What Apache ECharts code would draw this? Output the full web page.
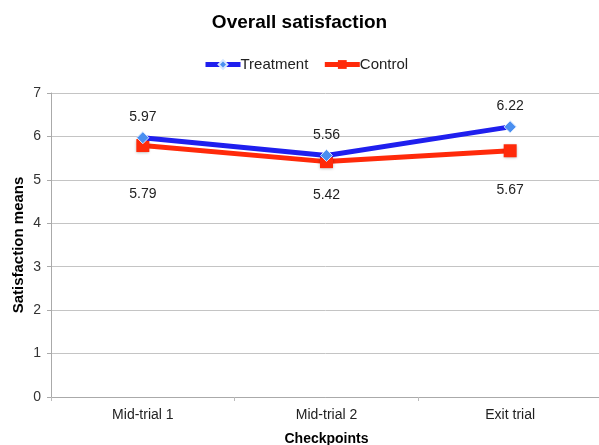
<!DOCTYPE html>
<html>
<head>
<meta charset="utf-8">
<script src="https://cdn.jsdelivr.net/npm/echarts@6/dist/echarts.min.js"></script>
<style>
  html, body { margin: 0; padding: 0; background: #fff; }
  #chart { width: 599px; height: 445px; }
</style>
</head>
<body>
<div id="chart"></div>
<script>
// Checkpoints along the x axis
const checkpoints = ['Mid-trial 1', 'Mid-trial 2', 'Exit trial'];
// Mean satisfaction per group
const treatment = [5.97, 5.56, 6.22];
const control = [5.79, 5.42, 5.67];
// Y axis range
const yMin = 0, yMax = 7, yStep = 1;

// Gap between each control marker and its value label
const controlLabelGap = [35, 20, 26];

const chart = echarts.init(document.getElementById('chart'));
const font = 'Liberation Sans, Arial, sans-serif';

chart.setOption({
  animation: false,
  backgroundColor: '#fff',
  title: {
    text: 'Overall satisfaction',
    left: 'center',
    top: 8,
    textStyle: { fontFamily: font, fontSize: 19, fontWeight: 'bold', color: '#000' }
  },
  legend: {
    top: 52,
    left: 198,
    itemGap: 14,
    itemWidth: 35,
    itemHeight: 11,
    textStyle: { fontFamily: font, fontSize: 15, color: '#222', padding: [0, 0, 0, -5] },
    data: [
      { name: 'Treatment', lineStyle: { width: 5 } },
      { name: 'Control', lineStyle: { width: 5 } }
    ]
  },
  grid: { left: 51, right: -3, top: 93, bottom: 48, outerBoundsMode: 'none', containLabel: false },
  xAxis: {
    type: 'category',
    data: checkpoints,
    name: 'Checkpoints',
    nameLocation: 'middle',
    nameGap: 35,
    nameTextStyle: { fontFamily: font, fontSize: 14, fontWeight: 'bold', color: '#000' },
    axisLine: { lineStyle: { color: '#aaa', width: 1 } },
    axisTick: { show: true, length: 4, lineStyle: { color: '#bbb' } },
    axisLabel: { fontFamily: font, fontSize: 14, color: '#222', margin: 11 }
  },
  yAxis: {
    type: 'value',
    min: yMin,
    max: yMax,
    interval: yStep,
    name: 'Satisfaction means',
    nameLocation: 'middle',
    nameGap: 25,
    nameMoveOverlap: false,
    nameTextStyle: { fontFamily: font, fontSize: 15, fontWeight: 'bold', color: '#000' },
    axisLine: { show: true, lineStyle: { color: '#aaa', width: 1 } },
    axisTick: { show: true, length: 4, lineStyle: { color: '#aaa' } },
    axisLabel: { fontFamily: font, fontSize: 14, color: '#333', margin: 10 },
    splitLine: { lineStyle: { color: '#c4c4c4', width: 1 } }
  },
  series: [
    {
      name: 'Treatment',
      type: 'line',
      data: treatment,
      symbol: 'diamond',
      symbolSize: 12,
      z: 3,
      lineStyle: { color: '#1f1fee', width: 5 },
      itemStyle: { color: '#4a8ff0', borderColor: '#d6e6ff', borderWidth: 1 },
      label: {
        show: true,
        position: 'top',
        distance: 7,
        fontFamily: font,
        fontSize: 14,
        color: '#222',
        formatter: p => p.value.toFixed(2)
      }
    },
    {
      name: 'Control',
      type: 'line',
      data: control.map((v, i) => ({ value: v, label: { distance: controlLabelGap[i] } })),
      symbol: 'rect',
      symbolSize: 13,
      z: 2,
      lineStyle: { color: '#ff2a0a', width: 5 },
      itemStyle: { color: '#ff2a0a', shadowColor: 'rgba(0,0,0,0.3)', shadowBlur: 3, shadowOffsetY: 1 },
      label: {
        show: true,
        position: 'bottom',
        fontFamily: font,
        fontSize: 14,
        color: '#222',
        formatter: p => p.value.toFixed(2)
      }
    }
  ]
});
</script>
</body>
</html>
